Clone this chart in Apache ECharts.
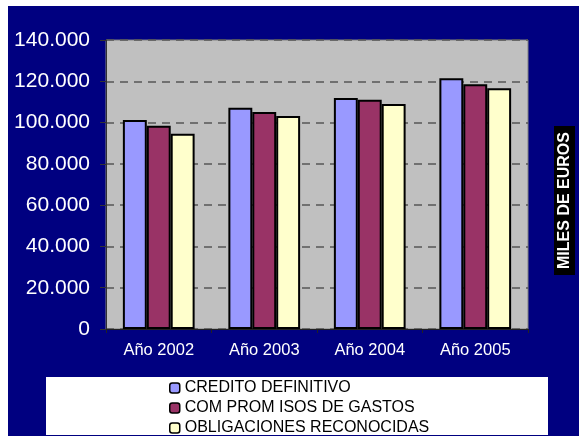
<!DOCTYPE html>
<html><head><meta charset="utf-8">
<script src="https://cdn.jsdelivr.net/npm/echarts@6/dist/echarts.min.js"></script>
<style>
html,body{margin:0;padding:0;background:#fff;width:579px;height:436px;overflow:hidden}
#c{position:absolute;left:8px;top:6px;width:571px;height:430px;background:#000080}
</style></head>
<body><div id="c"></div>
<script>
const categories = ['Año 2002','Año 2003','Año 2004','Año 2005'];
const seriesNames = ['CREDITO DEFINITIVO','COM PROM ISOS DE GASTOS','OBLIGACIONES RECONOCIDAS'];
const creditoDefinitivo = [101300, 107200, 111900, 121500];
const compromisosGastos = [98400, 105100, 111000, 118600];
const obligacionesReconocidas = [94600, 103200, 109000, 116600];
const colors = ['#9999FF','#993366','#FFFFCC'];
const yTicks = {min:0, max:140000, interval:20000};
const unitTitle = 'MILES DE EUROS';

function fmt(v){
  if (v === 0) return '0';
  const s = String(Math.round(v));
  return s.replace(/\B(?=(\d{3})+(?!\d))/g, '.');
}
const font = 'Arial, "Liberation Sans", sans-serif';
const chart = echarts.init(document.getElementById('c'), null, {renderer:'canvas'});
const values = [creditoDefinitivo, compromisosGastos, obligacionesReconocidas];
chart.setOption({
  backgroundColor: '#000080',
  animation: false,
  grid: {left: 98, top: 34, right: 51, bottom: 107, show: true,
         backgroundColor: '#C0C0C0', borderColor: '#808080', borderWidth: 1},
  legend: {
    orient: 'vertical', left: 161, top: 374, padding: 0,
    itemWidth: 10, itemHeight: 10, itemGap: 4,
    data: seriesNames,
    textStyle: {color: '#000', fontSize: 16, fontFamily: font, lineHeight: 16},
    itemStyle: {borderWidth: 1.5, borderColor: '#000'}
  },
  xAxis: {
    type: 'category', data: categories,
    axisLine: {lineStyle: {color: '#222', width: 1}},
    axisTick: {show: true, length: 4, lineStyle: {color: '#222'}},
    axisLabel: {color: '#fff', fontSize: 16.5, fontFamily: font, margin: 13}
  },
  yAxis: {
    type: 'value', min: yTicks.min, max: yTicks.max, interval: yTicks.interval,
    axisLine: {show: true, lineStyle: {color: '#333', width: 1}},
    axisTick: {show: true, length: 6, lineStyle: {color: '#333'}},
    axisLabel: {color: '#fff', fontSize: 21, fontFamily: font, margin: 16, formatter: fmt},
    splitLine: {show: true, lineStyle: {color: '#555', width: 1.5, type: [8, 6]}}
  },
  graphic: [
    {type: 'rect', z: 0, shape: {x: 38, y: 371, width: 502, height: 58}, style: {fill: '#fff'}},
    {type: 'text', z: 10, x: 556.5, y: 194.5, rotation: Math.PI / 2,
     style: {text: unitTitle, fill: '#fff', font: 'bold 16px ' + font,
             align: 'center', verticalAlign: 'middle',
             backgroundColor: '#000', padding: [3, 6, 2, 6]}}
  ],
  series: seriesNames.map((n, i) => ({
    name: n, type: 'bar', data: values[i],
    barGap: '0%', barCategoryGap: '32%',
    itemStyle: {color: colors[i], borderColor: '#000', borderWidth: 2}
  }))
});
</script></body></html>
